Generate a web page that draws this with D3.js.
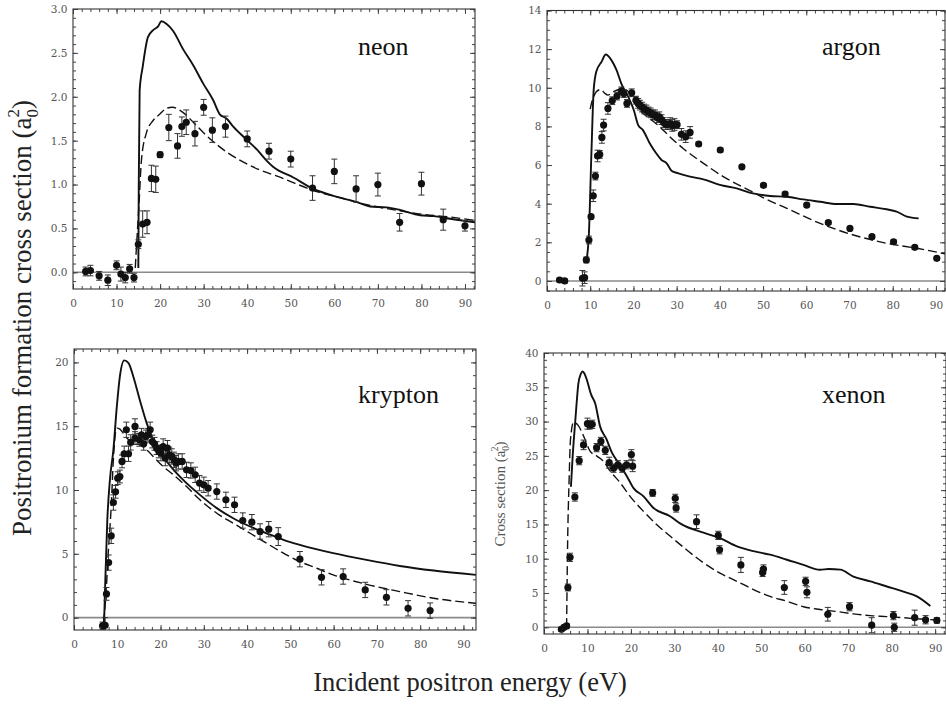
<!DOCTYPE html>
<html><head><meta charset="utf-8">
<script src="https://cdn.jsdelivr.net/npm/d3@7"></script>
<style>body{margin:0;background:#fff} svg{display:block}</style>
</head><body><svg id="c" width="946" height="705"></svg>
<script>
// ---------- data ----------
const xTicks = [0,10,20,30,40,50,60,70,80,90];
const neonYTicks = [0,0.5,1,1.5,2,2.5,3];
const argonYTicks = [0,2,4,6,8,10,12,14];
const kryptonYTicks = [0,5,10,15,20];
const xenonYTicks = [0,5,10,15,20,25,30,35,40];

// [energy, cross section, error]
const neonPoints = [[2.9,0.01,0.05],[4,0.02,0.06],[6,-0.04,0.05],[8,-0.09,0.06],[10,0.08,0.05],[11,-0.02,0.08],[12,-0.06,0.06],[13,0.04,0.05],[14,-0.06,0.05],[15,0.32,0.05],[16,0.55,0.15],[17,0.57,0.13],[18,1.07,0.15],[19,1.06,0.15],[20,1.34,0.03],[22,1.65,0.15],[24,1.44,0.14],[25,1.66,0.11],[26,1.71,0.14],[28,1.58,0.14],[30,1.88,0.09],[32,1.62,0.14],[35,1.66,0.12],[40,1.52,0.09],[45,1.38,0.09],[50,1.29,0.09],[55,0.96,0.14],[60,1.15,0.14],[65,0.95,0.15],[70,1.0,0.13],[75,0.57,0.1],[80,1.01,0.13],[85,0.6,0.12],[90,0.53,0.06]];
const neonSolid = [[15.0,0.05],[15.1,1.0],[15.3,2.07],[16.0,2.34],[17.2,2.68],[18.4,2.76],[19.5,2.8],[20.3,2.86],[21.5,2.83],[23,2.75],[25.3,2.54],[27.6,2.36],[29.9,2.15],[32.2,1.96],[33.7,1.8],[35.3,1.75],[36.8,1.66],[39.9,1.51],[42.2,1.4],[44.5,1.27],[46,1.2],[50.6,1.08],[55.2,0.95],[60.6,0.86],[65.2,0.8],[68.2,0.75],[72,0.74],[75.1,0.71],[79.7,0.65],[82.8,0.64],[86.6,0.61],[92.3,0.57]];
const neonDash = [[14.3,0.05],[14.4,0.14],[15.2,0.82],[15.7,1.27],[16.8,1.58],[18.4,1.73],[19.9,1.8],[21.5,1.87],[22.8,1.88],[25.3,1.82],[27.6,1.71],[30.6,1.56],[35.3,1.37],[40.5,1.22],[48.2,1.07],[56.6,0.91],[60.6,0.86],[67.5,0.77],[75.1,0.7],[80.5,0.66],[86.6,0.63],[92.3,0.59]];

const argonPoints = [[2.9,0.05,0.1],[4.1,0.0,0.1],[8.2,0.14,0.4],[8.7,0.17,0.3],[9.1,1.09,0.15],[9.7,2.12,0.2],[10.2,3.33,0.1],[10.7,4.41,0.3],[11.2,5.43,0.2],[11.7,6.47,0.3],[12.2,6.55,0.2],[12.7,7.43,0.3],[13.1,8.07,0.3],[14.1,8.93,0.3],[15.1,9.33,0.2],[16.2,9.57,0.2],[17.2,9.84,0.2],[17.8,9.7,0.2],[18.5,9.19,0.2],[19.6,9.74,0.2],[20.6,9.36,0.2],[21.1,9.19,0.25],[21.5,9.1,0.25],[22,9.0,0.25],[22.5,8.9,0.25],[23,8.85,0.25],[23.5,8.75,0.25],[24,8.7,0.25],[24.5,8.6,0.25],[25,8.6,0.25],[25.5,8.45,0.25],[26,8.5,0.25],[26.5,8.35,0.25],[27,8.2,0.25],[27.5,8.1,0.25],[28,8.1,0.25],[28.5,8.15,0.3],[29,8.05,0.3],[29.5,8.1,0.3],[30.1,8.09,0.2],[31.1,7.59,0.3],[32.1,7.47,0.3],[33.1,7.69,0.3],[35.1,7.09,0.1],[40.1,6.78,0.1],[45.1,5.91,0.1],[50.1,4.95,0.1],[55.1,4.5,0.1],[60.1,3.93,0.1],[65.1,3.02,0.1],[70.1,2.72,0.1],[75.2,2.29,0.1],[80.2,2.03,0.1],[85.1,1.74,0.1],[90.2,1.17,0.1]];
const argonSolid = [[9.1,1.0],[9.7,2.47],[10.3,6.78],[10.8,9.88],[11.4,10.83],[12.6,11.34],[13.6,11.72],[14.9,11.43],[16.1,10.91],[17.2,10.22],[18.8,9.53],[20.1,8.84],[21.1,8.07],[22.2,7.81],[23.8,7.12],[25.3,6.6],[26.5,6.26],[27.7,6.09],[28.8,5.71],[30.4,5.57],[33.1,5.4],[36.2,5.26],[40,4.97],[43.9,4.79],[47.7,4.53],[51.6,4.4],[55.5,4.36],[59.3,4.22],[63.2,4.1],[67.1,3.98],[70.9,3.98],[74.8,3.84],[78.6,3.71],[80.9,3.59],[83.3,3.33],[86,3.24]];
const argonDash = [[10.0,8.9],[10.3,9.2],[10.8,9.53],[11.4,9.79],[12.4,9.91],[13.4,9.71],[14.1,9.62],[15.3,9.79],[16.8,9.91],[18.4,9.88],[19.9,9.36],[21.5,8.84],[23.8,8.41],[26.1,7.98],[28.4,7.47],[31.5,6.86],[36.2,6.09],[40.8,5.4],[45.4,4.85],[48.5,4.5],[50.1,4.3],[55.5,3.76],[63.2,2.98],[70.9,2.38],[78.6,1.95],[85.6,1.69],[92.2,1.4]];

const kryptonPoints = [[6.6,-0.65,0.3],[7.2,-0.6,0.6],[7.5,1.86,0.5],[8.0,4.31,0.6],[8.6,6.41,0.6],[9.1,9.02,0.6],[9.6,9.86,0.5],[10.1,10.93,0.5],[10.6,11.06,0.5],[11.1,12.24,0.5],[11.6,12.84,0.6],[12.1,14.72,0.6],[12.6,12.84,0.6],[13.1,13.73,0.6],[14.1,14.98,0.6],[14.1,14.07,0.5],[15.1,13.93,0.5],[15.6,14.33,0.5],[16.1,13.62,0.5],[16.6,14.2,0.5],[17.1,14.33,0.5],[17.6,14.72,0.6],[18.1,13.8,0.5],[18.6,13.62,0.5],[19.1,13.28,0.5],[19.6,13.02,0.5],[20.1,12.89,0.6],[20.6,13.41,0.6],[21.1,12.5,0.6],[21.6,13.28,0.6],[22.0,12.76,0.6],[22.6,12.63,0.6],[23.1,12.37,0.6],[23.6,12.1,0.6],[24.1,12.24,0.6],[25.0,12.24,0.6],[26.0,11.58,0.6],[27.0,11.53,0.6],[28.0,11.19,0.6],[29.0,10.54,0.6],[30.0,10.41,0.6],[31.0,10.14,0.6],[33.0,9.88,0.6],[35.1,9.23,0.6],[37.1,8.84,0.6],[39.0,7.61,0.6],[41.1,7.48,0.6],[43.0,6.75,0.6],[45.0,6.93,0.6],[47.2,6.35,0.7],[52.2,4.58,0.6],[57.2,3.16,0.6],[62.2,3.22,0.6],[67.3,2.17,0.6],[72.2,1.59,0.6],[77.2,0.73,0.6],[82.3,0.55,0.6]];
const kryptonSolid = [[6.9,-1],[7.2,2.5],[7.7,7.66],[8.3,10.8],[9.1,13.15],[9.9,16.55],[10.6,18.9],[11.6,20.16],[12.6,19.95],[13.7,18.9],[15.3,16.94],[16.8,15.24],[18.3,13.93],[19.9,12.89],[21.4,12.24],[23.7,11.32],[26,10.54],[29.1,9.62],[33,8.58],[36.8,7.79],[40.7,7.14],[44.5,6.61],[48.4,6.09],[52.2,5.7],[59.9,5.05],[67.6,4.52],[75.3,4.05],[83.1,3.69],[92.9,3.35]];
const kryptonDash = [[6.8,-0.4],[7.4,1.9],[7.9,5.0],[8.6,8.7],[9.1,12.4],[9.7,14.7],[10.0,14.85],[10.5,14.8],[12.2,14.07],[13.7,13.67],[15.3,13.54],[16.8,13.15],[18.3,12.63],[20.6,11.84],[23,11.19],[26,10.27],[29.1,9.23],[33,8.18],[36.8,7.4],[40.7,6.61],[44.5,5.83],[48.4,5.05],[52.2,4.39],[56.1,3.87],[59.9,3.35],[67.6,2.61],[75.3,2.04],[83.1,1.52],[92.9,1.12]];

const xenonPoints = [[4.0,-0.3,0.3],[4.6,0,0.3],[5.2,0.2,0.3],[5.5,5.8,0.5],[6.0,10.2,0.6],[7.1,19.0,0.6],[8.1,24.3,0.6],[9.1,26.6,0.7],[10.0,29.7,0.8],[10.5,29.5,0.6],[11.1,29.6,0.6],[12.1,26.2,0.6],[13.1,27.1,0.6],[14.1,25.8,0.6],[15.0,24.0,0.8],[16.0,23.2,0.6],[17.0,23.7,0.6],[18.0,23.2,0.6],[19.0,23.7,0.6],[20.1,25.2,0.7],[20.4,23.5,0.8],[25.0,19.6,0.5],[30.2,18.8,0.6],[30.4,17.4,0.6],[35.1,15.4,1.0],[40.1,13.4,0.6],[40.4,11.3,0.6],[45.3,9.1,1.1],[50.3,8.0,0.6],[50.5,8.5,0.6],[55.3,5.8,1.0],[60.2,6.7,0.6],[60.5,5.1,0.8],[65.3,1.9,1.0],[70.3,3.0,0.6],[75.4,0.3,1.1],[80.4,1.7,0.6],[80.6,0.0,0.6],[85.3,1.4,1.1],[87.8,1.1,0.6],[90.4,1.0,0.4]];
const xenonSolid = [[6.2,20.5],[6.6,25],[7.0,28.5],[7.4,31.8],[7.9,35.5],[8.5,37.0],[8.9,37.3],[9.3,37.0],[9.8,36.2],[10.8,34.0],[11.8,32.6],[12.9,29.3],[14.4,27.4],[15.6,25.5],[17.1,24.0],[19.1,22.0],[20.6,20.3],[22.9,19.1],[25.2,17.4],[29,16.2],[31.7,15.0],[36.7,13.8],[40.5,13.0],[44.4,11.8],[48.2,11.1],[52,10.6],[55.9,9.85],[59.7,9.1],[63.5,8.4],[65.5,8.5],[68.2,8.4],[71.2,7.4],[75.1,6.7],[78.9,5.95],[82.7,5.2],[85.8,4.5],[88.9,3.1]];
const xenonDash = [[5.2,0],[5.4,10.8],[5.8,22],[6.1,27.4],[6.8,29.9],[7.9,29.4],[9.1,27.9],[10.6,25.7],[12.1,25.0],[13.7,24.2],[15.2,22.8],[17.5,21.1],[19.8,19.1],[22.9,16.9],[25.9,15.0],[29,13.3],[32.8,11.3],[36.7,9.4],[40.5,7.9],[44.4,6.7],[48.2,5.5],[52,4.5],[55.9,3.8],[59.7,3.0],[63.5,2.6],[67.4,2.3],[71.2,1.95],[75.1,1.7],[78.9,1.56],[82.7,1.4],[86.6,1.2],[90.4,1.07]];

// ---------- layout ----------
const panels = [
  {name:"neon", pts:neonPoints, solid:neonSolid, dash:neonDash, yTicks:neonYTicks, fmt:".1f", yMinor:0.1, yDomain:[-0.19,3.0], xMax:92.3, left:73, right:475, top:9, bottom:289, tx:358, ty:55},
  {name:"argon", pts:argonPoints, solid:argonSolid, dash:argonDash, yTicks:argonYTicks, fmt:"d", yMinor:0.5, yDomain:[-0.52,14.0], xMax:92.1, left:547, right:945, top:10.5, bottom:291, tx:822, ty:55},
  {name:"krypton", pts:kryptonPoints, solid:kryptonSolid, dash:kryptonDash, yTicks:kryptonYTicks, fmt:"d", yMinor:1, yDomain:[-0.97,21.05], xMax:92.9, left:74, right:476, top:349, bottom:630, tx:358, ty:403},
  {name:"xenon", pts:xenonPoints, solid:xenonSolid, dash:xenonDash, yTicks:xenonYTicks, fmt:"d", yMinor:1, yDomain:[-0.98,40.0], xMax:92.5, left:544, right:946, top:353, bottom:634, tx:822, ty:403}
];

const svg = d3.select("#c");
const serif = "'Liberation Serif', 'Times New Roman', serif";
const tickFont = "'DejaVu Serif', serif";

panels.forEach((p, i) => {
  const x = d3.scaleLinear().domain([0, p.xMax]).range([p.left, p.right]);
  const y = d3.scaleLinear().domain(p.yDomain).range([p.bottom, p.top]);
  const g = svg.append("g");
  const cid = "clip" + i;
  svg.append("clipPath").attr("id", cid).append("rect")
    .attr("x", p.left).attr("y", p.top).attr("width", p.right - p.left).attr("height", p.bottom - p.top);
  const pg = g.append("g").attr("clip-path", `url(#${cid})`);

  // zero line
  pg.append("line").attr("x1", p.left).attr("x2", p.right).attr("y1", y(0)).attr("y2", y(0))
    .attr("stroke", "#8a8a8a").attr("stroke-width", 1.6);

  const line = d3.line().x(d => x(d[0])).y(d => y(d[1])).curve(d3.curveMonotoneX);
  pg.append("path").datum(p.dash).attr("d", line).attr("fill", "none")
    .attr("stroke", "#111").attr("stroke-width", 1.4).attr("stroke-dasharray", "9,4");
  pg.append("path").datum(p.solid).attr("d", line).attr("fill", "none")
    .attr("stroke", "#111").attr("stroke-width", 1.9);

  // error bars
  const eb = pg.append("g").attr("stroke", "#333").attr("stroke-width", 1);
  p.pts.forEach(d => {
    const xx = x(d[0]), y1 = y(d[1] - d[2]), y2 = y(d[1] + d[2]);
    eb.append("line").attr("x1", xx).attr("x2", xx).attr("y1", y1).attr("y2", y2);
    eb.append("line").attr("x1", xx - 3).attr("x2", xx + 3).attr("y1", y1).attr("y2", y1);
    eb.append("line").attr("x1", xx - 3).attr("x2", xx + 3).attr("y1", y2).attr("y2", y2);
  });
  pg.append("g").selectAll("circle").data(p.pts).join("circle")
    .attr("cx", d => x(d[0])).attr("cy", d => y(d[1])).attr("r", 3.6).attr("fill", "#111");

  // axes
  const xMinor = d3.range(0, p.xMax, 2);
  const yMinor = d3.range(Math.ceil(p.yDomain[0] / p.yMinor) * p.yMinor, p.yDomain[1] + 1e-9, p.yMinor);
  const style = sel => {
    sel.select(".domain").remove();
    sel.selectAll("line").attr("stroke", "#444").attr("stroke-width", 1);
    sel.selectAll("text").attr("font-family", tickFont).attr("font-size", 10.5).attr("fill", "#555");
  };
  g.append("g").attr("transform", `translate(0,${p.bottom})`)
    .call(d3.axisBottom(x).tickValues(xTicks).tickSize(-5).tickPadding(11).tickFormat(d3.format("d"))).call(style);
  g.append("g").attr("transform", `translate(0,${p.bottom})`)
    .call(d3.axisBottom(x).tickValues(xMinor).tickSize(-3).tickFormat("")).call(style);
  g.append("g").attr("transform", `translate(0,${p.top})`)
    .call(d3.axisTop(x).tickValues(xTicks).tickSize(-5).tickFormat("")).call(style);
  g.append("g").attr("transform", `translate(0,${p.top})`)
    .call(d3.axisTop(x).tickValues(xMinor).tickSize(-3).tickFormat("")).call(style);
  g.append("g").attr("transform", `translate(${p.left},0)`)
    .call(d3.axisLeft(y).tickValues(p.yTicks).tickSize(-5).tickPadding(5.5).tickFormat(d3.format(p.fmt))).call(style);
  g.append("g").attr("transform", `translate(${p.left},0)`)
    .call(d3.axisLeft(y).tickValues(yMinor).tickSize(-3).tickFormat("")).call(style);
  g.append("g").attr("transform", `translate(${p.right},0)`)
    .call(d3.axisRight(y).tickValues(p.yTicks).tickSize(-5).tickFormat("")).call(style);
  g.append("g").attr("transform", `translate(${p.right},0)`)
    .call(d3.axisRight(y).tickValues(yMinor).tickSize(-3).tickFormat("")).call(style);

  // frame
  g.append("rect").attr("x", p.left).attr("y", p.top).attr("width", p.right - p.left).attr("height", p.bottom - p.top)
    .attr("fill", "none").attr("stroke", "#333").attr("stroke-width", 1.1);

  // gas name
  g.append("text").attr("x", p.tx).attr("y", p.ty).attr("font-family", serif).attr("font-size", 26)
    .attr("fill", "#111").text(p.name);
});

// global y label
const yl = svg.append("text").attr("transform", "translate(31,318) rotate(-90)")
  .attr("text-anchor", "middle").attr("font-family", serif).attr("font-size", 27).attr("fill", "#222");
yl.append("tspan").text("Positronium formation cross section (a");
yl.append("tspan").attr("font-size", 17).attr("dy", 7).text("0");
yl.append("tspan").attr("font-size", 17).attr("dx", -8.5).attr("dy", -19).text("2");
yl.append("tspan").attr("dy", 12).text(")");

// xenon panel label
const xl = svg.append("text").attr("transform", "translate(505,494) rotate(-90)")
  .attr("text-anchor", "middle").attr("font-family", serif).attr("font-size", 15).attr("fill", "#555");
xl.append("tspan").text("Cross section (a");
xl.append("tspan").attr("font-size", 9.5).attr("dy", 4).text("0");
xl.append("tspan").attr("font-size", 9.5).attr("dx", -5.3).attr("dy", -11).text("2");
xl.append("tspan").attr("dy", 7).text(")");

// x label
svg.append("text").attr("x", 470).attr("y", 691).attr("text-anchor", "middle")
  .attr("font-family", serif).attr("font-size", 26.5).attr("fill", "#222").text("Incident positron energy (eV)");
</script></body></html>
